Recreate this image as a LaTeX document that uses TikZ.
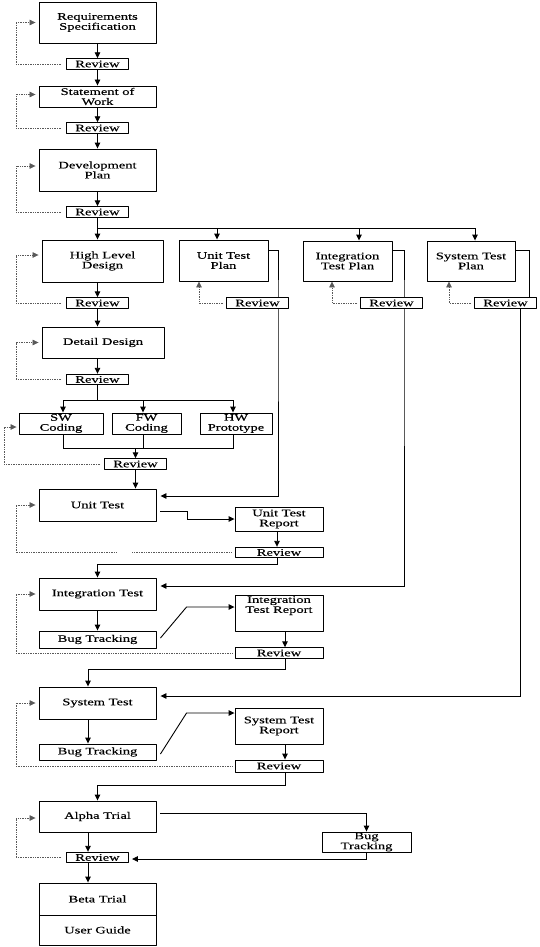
\documentclass[tikz,border=0pt]{standalone}
\usepackage{fontspec}
\setmainfont[FakeStretch=1.45,FakeBold=0.2]{Liberation Serif}
\usetikzlibrary{backgrounds,arrows.meta}
\begin{document}
\begin{tikzpicture}[x=1pt,y=-1pt,line join=round,>={Triangle[length=6pt,width=5.5pt]},font=\fontsize{10}{10}\selectfont,
  blk/.style={draw,fill=white,line width=.9pt,inner sep=0pt,align=center},
  rev/.style={blk,minimum width=62,minimum height=10.5},
  fb/.style={densely dotted,gray!70!black,line width=.7pt,->},
  ln/.style={line width=.9pt}]
\useasboundingbox (0,0) rectangle (539,947);
\coordinate (lrail) at (16,0);
\coordinate (srail) at (4,0);
\node[blk,minimum width=117,minimum height=41] (req) at (97.5,22.5) {Requirements\\Specification};
\node[rev] (rev1) at (97.5,64) {Review};
\node[blk,minimum width=117,minimum height=21] (sow) at (97.5,96.5) {Statement of\\Work};
\node[rev] (rev2) at (97.5,128) {Review};
\node[blk,minimum width=117,minimum height=42] (dev) at (97.5,170) {Development\\Plan};
\node[rev] (rev3) at (97.5,212) {Review};
\node[blk,minimum width=121,minimum height=42] (hld) at (102.5,261) {High Level\\Design};
\node[blk,minimum width=89,minimum height=41] (utp) at (223.5,260.5) {Unit Test\\Plan};
\node[blk,minimum width=89,minimum height=40] (itp) at (347.5,261) {Integration\\Test Plan};
\node[blk,minimum width=88,minimum height=40] (stp) at (471,261) {System Test\\Plan};
\node[rev] (rev4) at (97.5,303) {Review};
\node[rev] (revu) at (257.5,303) {Review};
\node[rev] (revi) at (391.5,303) {Review};
\node[rev] (revs) at (505.5,303) {Review};
\node[blk,minimum width=122,minimum height=31] (dd) at (103,342.5) {Detail Design};
\node[rev] (rev5) at (97.5,379.5) {Review};
\node[blk,minimum width=84,minimum height=21] (sw) at (61,423.5) {SW\\Coding};
\node[blk,minimum width=69,minimum height=21] (fw) at (146.5,423.5) {FW\\Coding};
\node[blk,minimum width=72,minimum height=21] (hw) at (236,423.5) {HW\\Prototype};
\node[rev] (rev6) at (135.5,464) {Review};
\node[blk,minimum width=117,minimum height=32] (ut) at (97.5,505) {Unit Test};
\node[blk,minimum width=88,minimum height=24] (utr) at (279,519) {Unit Test\\Report};
\node[rev,minimum width=88] (rev7) at (279,552.5) {Review};
\node[blk,minimum width=117,minimum height=32] (it) at (97.5,594) {Integration Test};
\node[blk,minimum width=117,minimum height=17] (bt1) at (97.5,639.5) {Bug Tracking};
\node[blk,minimum width=88,minimum height=36,label={[anchor=north,align=center,inner sep=1.5]north:Integration\\Test Report}] (itr) at (279,613) {};
\node[rev,minimum width=88] (rev8) at (279,653) {Review};
\node[blk,minimum width=117,minimum height=32] (st) at (97.5,703) {System Test};
\node[blk,minimum width=117,minimum height=16] (bt2) at (97.5,752) {Bug Tracking};
\node[blk,minimum width=88,minimum height=36] (str) at (279,726) {System Test\\Report};
\node[rev,minimum width=88,minimum height=12] (rev9) at (279,766) {Review};
\node[blk,minimum width=117,minimum height=31] (at) at (97.5,816.5) {Alpha Trial};
\node[blk,minimum width=89,minimum height=20] (bt3) at (366.5,842) {Bug\\Tracking};
\node[rev] (rev10) at (97.5,857.5) {Review};
\node[blk,minimum width=117,minimum height=32] (beta) at (97.5,899) {Beta Trial};
\node[blk,minimum width=117,minimum height=30] (ug) at (97.5,930) {User Guide};
\begin{pgfonlayer}{background}
\draw[->,ln] (req) -- (rev1);
\draw[->,ln] (rev1) -- (sow);
\draw[->,ln] (sow) -- (rev2);
\draw[->,ln] (rev2) -- (dev);
\draw[->,ln] (dev) -- (rev3);
\draw[ln] (rev3) -- ++(0,16) coordinate (split);
\draw[->,ln] (split) -- (split |- hld.north);
\draw[->,ln] (split) -| ([xshift=-6.5]utp.north);
\draw[->,ln] (split) -| ([xshift=11.5]itp.north);
\draw[->,ln] (split) -| ([xshift=4]stp.north);
\draw[->,ln] ([yshift=10.5]utp.east) -| ([xshift=20.5]revu.south) |- ([xshift=4,yshift=9]ut.east);
\draw[->,ln] ([yshift=11]itp.east) -| ([xshift=12.5]revi.south) |- ([xshift=4,yshift=8]it.east);
\draw[ln] ([yshift=11]stp.east) -| ([xshift=23.5]revs.center);
\draw[->,ln] ([xshift=14.5]revs.center) |- ([xshift=4,yshift=7]st.east);
\draw[fb] ([xshift=-3]revu.west) -| ([xshift=-24.5]utp.south);
\draw[fb] ([xshift=-3]revi.west) -| ([xshift=-15.5]itp.south);
\draw[fb] ([xshift=-3]revs.west) -| ([xshift=-22]stp.south);
\draw[fb] ([xshift=-5]rev1.west) -- (rev1.west -| lrail) |- ([xshift=-3]req.west);
\draw[fb] ([xshift=-5]rev2.west) -- (rev2.west -| lrail) |- ([xshift=-3,yshift=2]sow.west);
\draw[fb] ([xshift=-5]rev3.west) -- (rev3.west -| lrail) |- ([xshift=-3,yshift=4]dev.west);
\draw[fb] ([xshift=-5]rev4.west) -- (rev4.west -| lrail) |- ([xshift=-3,yshift=6]hld.west);
\draw[fb] ([xshift=-5]rev5.west) -- (rev5.west -| lrail) |- ([xshift=-3]dd.west);
\draw[fb] ([xshift=-4]rev6.west) -- (rev6.west -| srail) |- ([xshift=-2,yshift=-3.5]sw.west);
\draw[fb,-] ([xshift=-3]rev7.west) -- ([xshift=-103]rev7.west);
\draw[fb] ([xshift=-118]rev7.west) -- (rev7.west -| lrail) |- ([xshift=-3]ut.west);
\draw[fb] ([xshift=-2]rev8.west) -- (rev8.west -| lrail) |- ([xshift=-3]it.west);
\draw[fb] ([xshift=-2]rev9.west) -- (rev9.west -| lrail) |- ([xshift=-3]st.west);
\draw[fb] ([xshift=-5]rev10.west) -- (rev10.west -| lrail) |- ([xshift=-3,yshift=-1.5]at.west);
\draw[->,ln] (hld.south -| rev4) -- (rev4);
\draw[->,ln] (rev4) -- (rev4 |- dd.north);
\draw[->,ln] (dd.south -| rev5) -- (rev5);
\draw[ln] (rev5) -- ++(0,20.5) coordinate (fork);
\draw[->,ln] (fork) -| ([xshift=2]sw.north);
\draw[->,ln] (fork) -| ([xshift=-3.5]fw.north);
\draw[->,ln] (fork) -| ([xshift=-3]hw.north);
\draw[ln] ([xshift=2]sw.south) -- ++(0,14) coordinate (join) -| ([xshift=-3]hw.south);
\draw[ln] ([xshift=-3.5]fw.south) -- ([xshift=-3.5]fw.south |- join);
\draw[->,ln] (rev6 |- join) -- (rev6);
\draw[->,ln] (rev6) -- (rev6 |- ut.north);
\draw[->,ln] ([xshift=4,yshift=-6]ut.east) -- ++(27,0) |- (utr.west);
\draw[->,ln] ([xshift=-2]utr.south) -- ([xshift=-2]rev7.north);
\draw[->,ln] ([xshift=-2]rev7.south) -- ++(0,6) -| (it.north);
\draw[->,ln] (it) -- (bt1);
\draw[->,ln] ([xshift=4,yshift=1.5]bt1.east) -- ([xshift=-48,yshift=6]itr.west) -- ([yshift=6]itr.west);
\draw[->,ln] ([xshift=6]itr.south) -- ([xshift=6]rev8.north);
\draw[->,ln] ([xshift=6]rev8.south) -- ++(0,11) -| ([xshift=-9.5]st.north);
\draw[->,ln] ([xshift=-9.5]st.south) -- ([xshift=-9.5]bt2.north);
\draw[->,ln] ([xshift=4,yshift=-2]bt2.east) -- ([xshift=-48,yshift=13]str.west) -- ([yshift=13]str.west);
\draw[->,ln] ([xshift=6]str.south) -- ([xshift=6]rev9.north);
\draw[->,ln] ([xshift=6]rev9.south) -- ++(0,13) -| (at.north);
\draw[->,ln] ([xshift=4,yshift=3.5]at.east) -| (bt3.north);
\draw[->,ln] (bt3.south) |- ([xshift=3,yshift=-1.5]rev10.east);
\draw[->,ln] ([xshift=-9.5]at.south) -- ([xshift=-9.5]rev10.north);
\draw[->,ln] ([xshift=-9.5]rev10.south) -- ([xshift=-9.5]beta.north);
\end{pgfonlayer}
\end{tikzpicture}
\end{document}
